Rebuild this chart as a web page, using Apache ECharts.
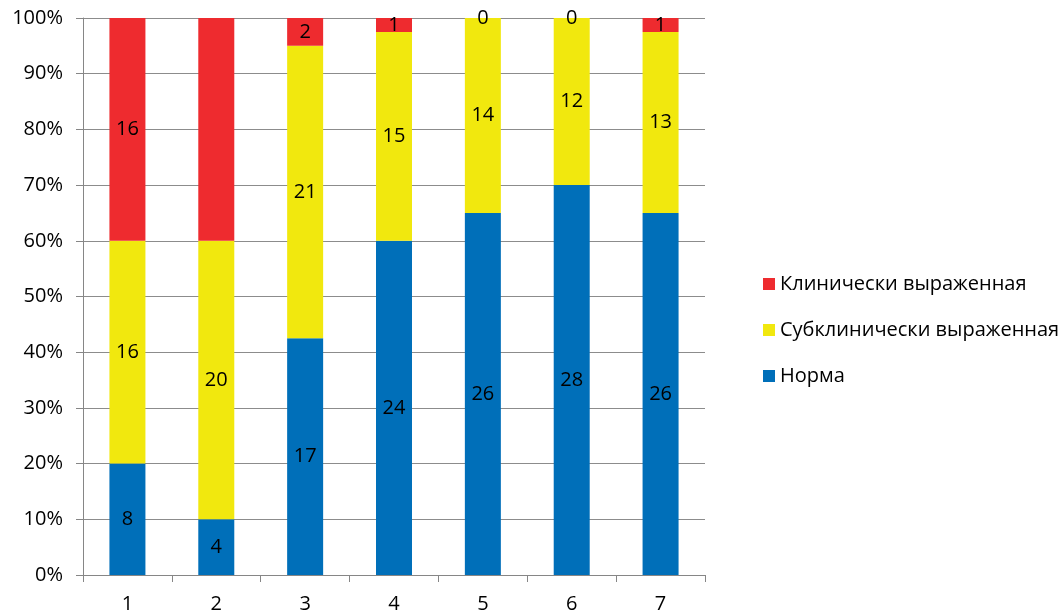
<!DOCTYPE html>
<html>
<head>
<meta charset="utf-8">
<script src="https://cdn.jsdelivr.net/npm/echarts@6/dist/echarts.min.js"></script>
<style>
  html, body { margin: 0; padding: 0; background: #fff; }
  #chart { width: 1060px; height: 614px; }
</style>
</head>
<body>
<div id="chart"></div>
<script>
// categories and counts per group
var categories = ['1', '2', '3', '4', '5', '6', '7'];
var norma = [8, 4, 17, 24, 26, 28, 26];
var subclin = [16, 20, 21, 15, 14, 12, 13];
var clin = [16, 16, 2, 1, 0, 0, 1];
var seriesNames = ['Норма', 'Субклинически выраженная', 'Клинически выраженная'];
// labels that the original picture leaves out: [series index, category index]
var hiddenLabels = [[2, 1]];

var counts = [norma, subclin, clin];
var colors = ['#006FB9', '#F1E80E', '#EE2B2F'];
var font = 'Open Sans';

var totals = categories.map(function (c, i) {
  return norma[i] + subclin[i] + clin[i];
});

function isHidden(s, i) {
  return hiddenLabels.some(function (h) { return h[0] === s && h[1] === i; });
}

var series = counts.map(function (arr, s) {
  return {
    name: seriesNames[s],
    type: 'bar',
    stack: 'total',
    barWidth: 36,
    itemStyle: { color: colors[s] },
    label: {
      show: true,
      position: 'inside',
      color: '#000',
      fontFamily: font,
      fontSize: 20,
      formatter: function (p) { return arr[p.dataIndex]; }
    },
    data: arr.map(function (v, i) {
      var item = { value: v / totals[i] * 100 };
      if (isHidden(s, i)) item.label = { show: false };
      return item;
    })
  };
});

var chart = echarts.init(document.getElementById('chart'), null, { renderer: 'canvas' });
chart.setOption({
  animation: false,
  textStyle: { fontFamily: font },
  grid: { left: 83, right: 355, top: 18, bottom: 39 },
  legend: {
    orient: 'vertical',
    left: 758,
    top: 269,
    data: [seriesNames[2], seriesNames[1], seriesNames[0]],
    icon: 'rect',
    itemWidth: 12,
    itemHeight: 12,
    itemGap: 26,
    textStyle: { fontFamily: font, fontSize: 20, color: '#000' }
  },
  xAxis: {
    type: 'category',
    data: categories,
    axisLine: { lineStyle: { color: '#868686', width: 1 } },
    axisTick: { show: true, length: 7, lineStyle: { color: '#868686' } },
    axisLabel: { color: '#000', fontSize: 20, margin: 19, fontFamily: font }
  },
  yAxis: {
    type: 'value',
    min: 0,
    max: 100,
    interval: 10,
    axisLine: { show: true, lineStyle: { color: '#868686', width: 1 } },
    axisTick: { show: true, length: 7, lineStyle: { color: '#868686' } },
    splitLine: { lineStyle: { color: '#8c8c8c', width: 1 } },
    axisLabel: { color: '#000', fontSize: 20, margin: 20, fontFamily: font, formatter: '{value}%' }
  },
  series: series
});
</script>
</body>
</html>
